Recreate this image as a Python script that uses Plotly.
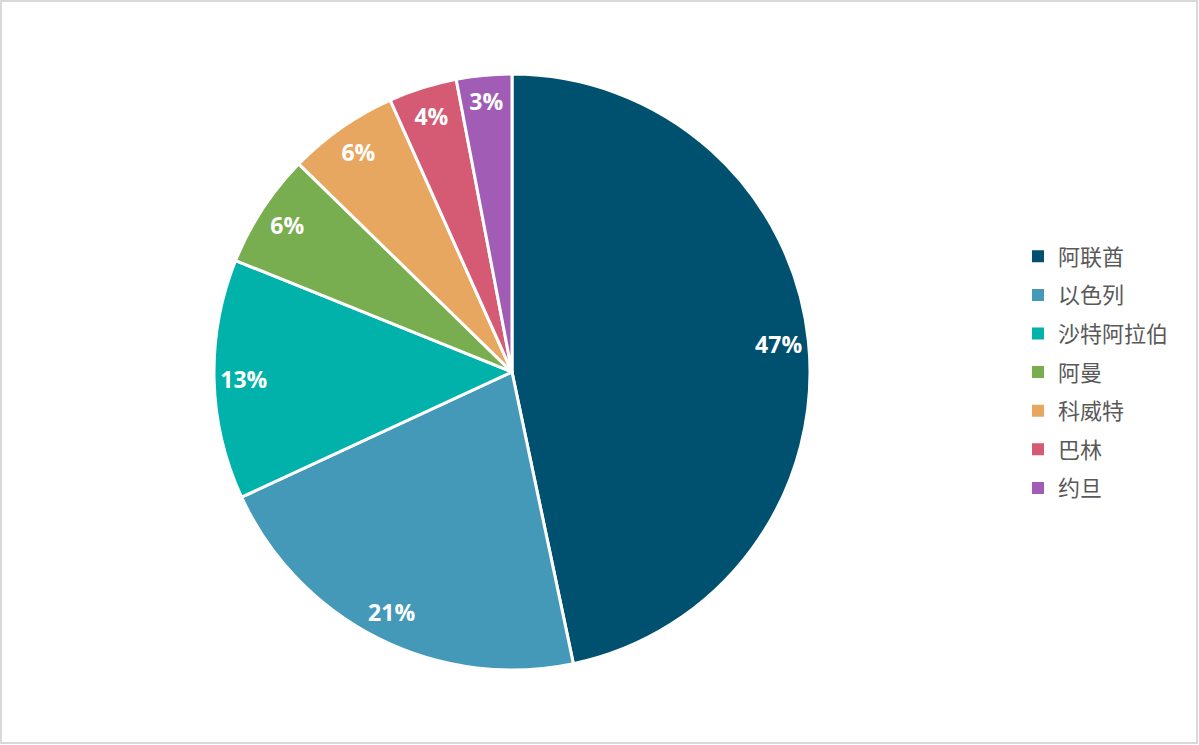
import plotly.graph_objects as go

labels = ["阿联酋", "以色列", "沙特阿拉伯", "阿曼", "科威特", "巴林", "约旦"]
values = [46.7, 21.4, 13.0, 6.2, 6.0, 3.7, 3.0]
colors = ["#00506F", "#4499B8", "#00B2A9", "#78AD50", "#E8A760", "#D45B73", "#A15DB5"]

W, H = 1199, 745
cx, cy, R = 512, 372, 298
dom = dict(x=[(cx - R) / W, (cx + R) / W], y=[(H - cy - R) / H, (H - cy + R) / H])

fig = go.Figure()
fig.add_trace(go.Pie(
    labels=labels, values=values, sort=False, direction="clockwise", rotation=0,
    marker=dict(colors=colors, line=dict(color="white", width=3)),
    textinfo="none", showlegend=False, domain=dom, hoverinfo="label+percent",
))
fig.add_trace(go.Pie(
    labels=labels, values=values, sort=False, direction="clockwise", rotation=0,
    hole=0.8,
    marker=dict(colors=["rgba(0,0,0,0)"] * len(labels), line=dict(width=0)),
    texttemplate="%{percent:.0%}", textposition="inside",
    insidetextorientation="horizontal",
    textfont=dict(color="white", size=23, family="Open Sans", weight="bold"),
    showlegend=False, domain=dom, hoverinfo="skip",
))
for lab, col in zip(labels, colors):
    fig.add_trace(go.Scatter(
        x=[None], y=[None], mode="markers", name=lab, legendgroup=lab,
        marker=dict(symbol="square", size=12, color=col), showlegend=True,
    ))

fig.update_layout(
    width=W, height=H,
    margin=dict(l=0, r=0, t=0, b=0),
    paper_bgcolor="white", plot_bgcolor="white",
    xaxis=dict(visible=False), yaxis=dict(visible=False),
    uniformtext=dict(minsize=23, mode="show"),
    legend=dict(
        x=1018 / W, y=0.5, xanchor="left", yanchor="middle",
        font=dict(family="Noto Sans CJK SC", size=22, color="#595959"),
        tracegroupgap=7, itemwidth=30,
    ),
    shapes=[dict(type="rect", xref="paper", yref="paper",
                 x0=1 / W, x1=1197 / W, y0=2 / H, y1=1 - 1 / H,
                 line=dict(color="#D9D9D9", width=2))],
)
fig.write_html(
    "out.html",
    config={"displayModeBar": False},
    post_script="document.body.style.margin='0';document.body.style.overflow='hidden';",
)
